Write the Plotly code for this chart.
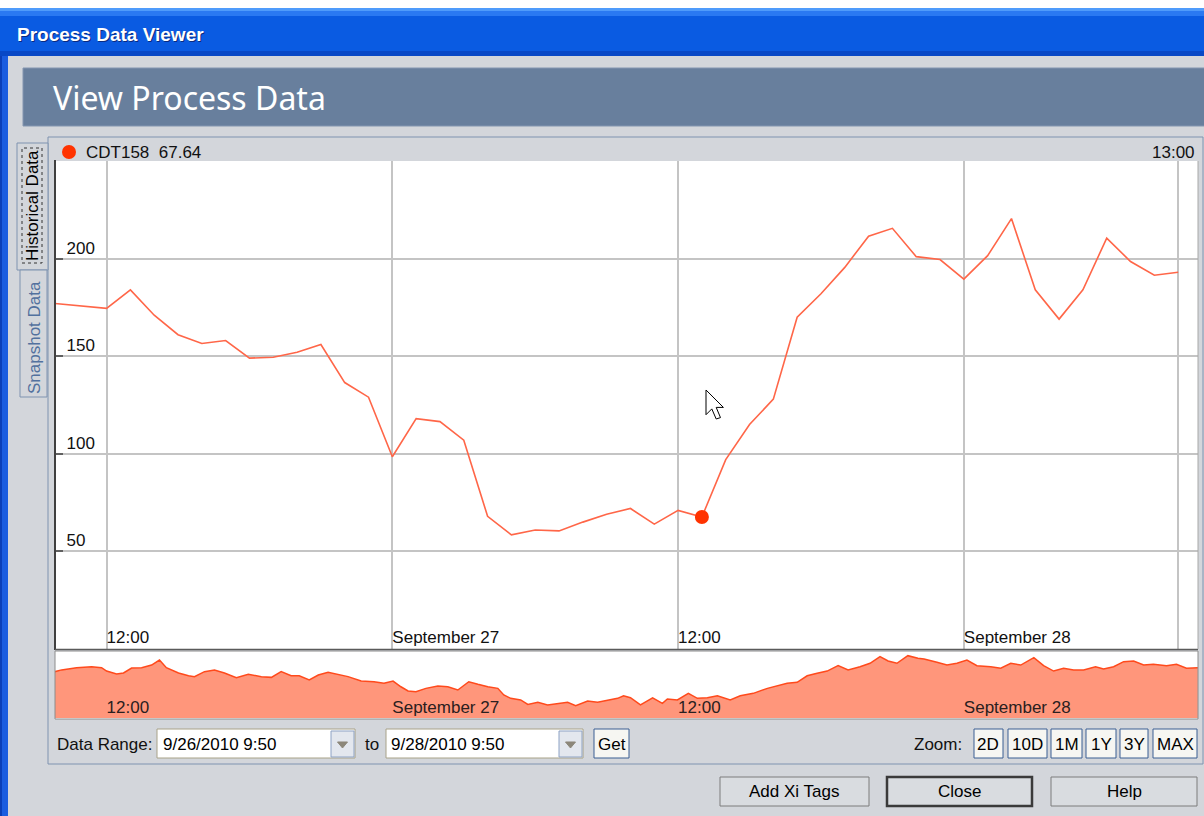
import plotly.graph_objects as go
import pandas as pd

# ---------------- data ----------------
tag_name = "CDT158"
cursor_value = 67.64
cursor_time = "2010-09-27 13:00"
cursor_time_label = "13:00"

range_start = "2010-09-26 09:50"
range_end = "2010-09-28 09:50"

main_first_time = "2010-09-26 09:50"
main_hourly_start = "2010-09-26 12:00"
main_values = [177, 174.5, 184, 171, 161, 156.5, 158, 149, 149.5, 152, 156, 136.5, 129, 98.5,
               118, 116.5, 107, 68, 58.5, 61, 60.5, 65, 69, 72, 64, 71,
               67.64, 97, 115, 128, 170, 182, 195.5, 211.5, 215.5, 201, 199.5, 189.5,
               201.5, 220.5, 184, 169, 184, 210.5, 198.5, 191.5, 193]

# overview (navigator) series: hours since 2010-09-26 00:00
overview_hours = [9.83, 10.11, 10.74, 11.37, 11.79, 12.00, 12.42, 12.71, 13.05, 13.47, 13.89, 14.22,
                  14.51, 15.02, 15.44, 15.69, 16.11, 16.53, 16.95, 17.45, 17.95, 18.50, 18.92, 19.33,
                  19.75, 20.09, 20.51, 20.89, 21.30, 21.77,
                  22.14, 22.69, 23.23, 23.65, 24.03, 24.36, 24.66, 24.99, 25.41, 25.91, 26.33, 26.75,
                  27.21, 27.59, 28.01, 28.43, 28.68, 28.97, 29.39, 29.69, 30.11, 30.52, 30.94, 31.36,
                  31.70, 32.20, 32.62, 33.04, 33.46, 33.71, 34.00,
                  34.42, 34.93, 35.34, 35.55, 35.97, 36.43, 36.81, 37.23, 37.65, 38.19, 38.61, 39.16,
                  39.75, 40.16, 40.58, 41.00, 41.42, 41.84, 42.26, 42.72, 43.14, 43.64, 44.06, 44.48,
                  44.82, 45.19, 45.65, 46.07,
                  46.33, 46.87, 47.29, 47.71, 48.13, 48.55, 49.13, 49.55, 49.97, 50.39, 50.94, 51.35,
                  51.77, 52.19, 52.61, 53.03, 53.53, 53.87, 54.29, 54.71, 55.13, 55.55, 55.96, 56.51,
                  56.93, 57.35, 57.83]
overview_values = [173, 179, 186.5, 190, 186.5, 175, 165, 168.5, 185.5, 186.5, 195.5, 212.5,
                   186.5, 168.5, 159, 156, 173, 178.5, 168.5, 152.5, 164, 156, 153.5, 173,
                   159, 159, 144.5, 161.5, 171, 164,
                   156, 141, 138.5, 133.5, 141, 121.5, 107, 104.5, 116, 124, 121.5, 110.5,
                   138.5, 130, 121.5, 116, 93.5, 82, 76.5, 61.5, 68.5, 59.5, 65, 68.5,
                   57, 73, 68.5, 76.5, 82, 91, 84,
                   59.5, 84, 65, 80, 76.5, 99, 82, 84, 91, 76.5, 91, 99,
                   116, 125, 133.5, 136.5, 159, 167.5, 175, 193.5, 178.5, 190, 201.5, 224,
                   209.5, 201.5, 227.5, 218.5,
                   216, 205, 195.5, 201.5, 212.5, 193.5, 190, 184.5, 201.5, 195.5, 220.5, 193.5,
                   175, 184.5, 178.5, 178.5, 190, 182, 190, 207, 209.5, 195.5, 198, 193.5,
                   198, 184.5, 186.5]

x_tickvals = ["2010-09-26 12:00", "2010-09-27 00:00", "2010-09-27 12:00", "2010-09-28 00:00", "2010-09-28 09:00"]
x_ticktext = ["12:00", "September 27", "12:00", "September 28", ""]
ov_tickvals = x_tickvals[:4]
ov_ticktext = x_ticktext[:4]
y_tickvals = [50, 100, 150, 200, 250]
y_ticktext = ["50", "100", "150", "200", ""]

zoom_buttons = ["2D", "10D", "1M", "1Y", "3Y", "MAX"]
date_from = "9/26/2010 9:50"
date_to = "9/28/2010 9:50"

# ---------------- build ----------------
main_times = [pd.Timestamp(main_first_time)] + list(pd.date_range(main_hourly_start, periods=len(main_values) - 1, freq="h"))
overview_times = pd.Timestamp("2010-09-26") + pd.to_timedelta(overview_hours, unit="h")

W, H = 1204, 816
FONT = "Liberation Sans, Arial, sans-serif"
BG = "#D3D6DB"


def X(px):
    return px / W


def Y(py):
    return 1 - py / H


shapes = []
annotations = []


def rect(x0, y0, x1, y1, fill=None, line=None, lw=1, dash=None, layer="below"):
    shapes.append(dict(type="rect", xref="paper", yref="paper",
                       x0=X(x0), x1=X(x1), y0=Y(y1), y1=Y(y0),
                       fillcolor=fill if fill else "rgba(0,0,0,0)",
                       line=dict(color=line if line else "rgba(0,0,0,0)", width=lw if line else 0, dash=dash),
                       layer=layer))


def hline(x0, x1, y, color, lw=1, layer="above"):
    shapes.append(dict(type="line", xref="paper", yref="paper", x0=X(x0), x1=X(x1), y0=Y(y), y1=Y(y),
                       line=dict(color=color, width=lw), layer=layer))


def vline(x, y0, y1, color, lw=1, layer="above"):
    shapes.append(dict(type="line", xref="paper", yref="paper", x0=X(x), x1=X(x), y0=Y(y0), y1=Y(y1),
                       line=dict(color=color, width=lw), layer=layer))


def poly(pts, fill, line, lw=1, layer="above"):
    d = "M " + " L ".join(f"{X(a):.5f},{Y(b):.5f}" for a, b in pts) + " Z"
    shapes.append(dict(type="path", xref="paper", yref="paper", path=d, fillcolor=fill,
                       line=dict(color=line, width=lw), layer=layer))


def text(x, y, s, size=17, color="#000000", xanchor="left", bold=False, family=FONT, angle=0):
    annotations.append(dict(xref="paper", yref="paper", x=X(x), y=Y(y), text=(f"<b>{s}</b>" if bold else s),
                            showarrow=False, xanchor=xanchor, yanchor="middle", textangle=angle,
                            font=dict(family=family, size=size, color=color)))


# window chrome
rect(0, 0, W, 8, fill="#FFFFFF")
rect(0, 8, W, 56, fill="#0A5BE2")
rect(0, 8, W, 11, fill="#4F9BFB")
rect(0, 11, W, 16, fill="#2A79F2")
rect(0, 51, W, 56, fill="#0848C6")
rect(0, 56, 8, H, fill="#1A5DE0")
rect(0, 56, 2, H, fill="#0A3FB8")

# banner
rect(23, 68, W + 2, 126, fill="#687F9D", line="#8396B0")

# panel + tabs
rect(48, 137, 1203, 764, line="#7F93B0")
rect(17, 143, 48, 270, fill=BG, line="#7F93B0")
rect(20, 270, 47, 397, fill=BG, line="#7F93B0")
rect(22, 148, 42, 263, line="#333333", dash="dot")

# plot backgrounds
rect(55, 161, 1198, 649, fill="#FFFFFF")
rect(55, 651, 1198, 719, fill="#FFFFFF")

# plot borders
vline(55, 160, 650, "#404040", 2)
hline(55, 1198, 649.5, "#5A5A5A", 1.5)
vline(1198, 161, 649, "#A8A8A8", 1)
rect(55, 651, 1198, 719, line="#8C8C8C", layer="above")

# header of chart: legend dot
shapes.append(dict(type="circle", xref="paper", yref="paper", x0=X(62), x1=X(76), y0=Y(159), y1=Y(145),
                   fillcolor="#FF3300", line=dict(width=0), layer="below"))

# data range controls
for (cx0, cx1) in [(157, 355), (386, 583)]:
    rect(cx0, 729, cx1, 758, fill="#FFFFFF", line="#A8A288")
    rect(cx1 - 24, 731, cx1 - 1, 757, fill="#E3E7EE", line="#8DA2C4")
    mx = cx1 - 12.5
    poly([(mx - 5, 742), (mx + 5, 742), (mx, 748)], "#8C877A", "#8C877A", 1, layer="below")

rect(594, 729, 629, 758, fill="#F6F6F2", line="#3B5E93")
zoom_pos = [(974, 1003), (1008, 1047), (1051, 1082), (1086, 1116), (1120, 1148), (1153, 1197)]
for (bx0, bx1) in zoom_pos:
    rect(bx0, 729, bx1, 758, fill="#F6F6F2", line="#3B5E93")

# bottom buttons
bottom_buttons = [("Add Xi Tags", 720, 869, "#7C7C7C", 1), ("Close", 887, 1032, "#3A3A3A", 2.5), ("Help", 1051, 1197, "#7C7C7C", 1)]
for (lbl, bx0, bx1, lc, lw) in bottom_buttons:
    rect(bx0, 777, bx1, 806, fill="#D9DCE0", line=lc, lw=lw)

# mouse cursor
tip = (706, 390)
arrow = [(0, 0), (0, 24.7), (5.8, 18.9), (10.2, 29), (14.5, 27.6), (10.2, 17.4), (17.4, 17.4)]
poly([(tip[0] + a, tip[1] + b) for a, b in arrow], "#FFFFFF", "#000000", 1)

# texts
text(16, 36, "Process Data Viewer", 19, "#0A2A80", bold=True)
text(15, 35, "Process Data Viewer", 19, "#FFFFFF", bold=True)
text(51, 97, "View Process Data", 32, "#FFFFFF", family="Noto Sans, Open Sans, sans-serif")
text(32, 206, "Historical Data", 17, "#000000", xanchor="center", angle=-90)
text(34, 338, "Snapshot Data", 17, "#52719E", xanchor="center", angle=-90)
text(84, 152, f"{tag_name}\u00a0 {cursor_value:.2f}", 17, "#111111")
text(1197, 152, cursor_time_label, 17, "#111111", xanchor="right")
text(55, 744, "Data Range:", 17, "#111111")
text(161, 744, date_from, 17, "#000000")
text(363, 744, "to", 17, "#111111")
text(389, 744, date_to, 17, "#000000")
text(611.5, 744, "Get", 17, "#000000", xanchor="center")
text(964, 744, "Zoom:", 17, "#111111", xanchor="right")
for lbl, (bx0, bx1) in zip(zoom_buttons, zoom_pos):
    text((bx0 + bx1) / 2, 744, lbl, 17, "#000000", xanchor="center")
for (lbl, bx0, bx1, lc, lw) in bottom_buttons:
    text((bx0 + bx1) / 2, 791, lbl, 17, "#000000", xanchor="center")

fig = go.Figure()

fig.add_trace(go.Scatter(x=main_times, y=main_values, mode="lines",
                         line=dict(color="#FF6648", width=1.6), xaxis="x", yaxis="y", hoverinfo="skip"))
fig.add_trace(go.Scatter(x=[cursor_time], y=[cursor_value], mode="markers",
                         marker=dict(color="#FF3300", size=14), xaxis="x", yaxis="y", hoverinfo="skip"))
fig.add_trace(go.Scatter(x=overview_times, y=overview_values, mode="lines", fill="tozeroy",
                         fillcolor="#FF967B", line=dict(color="#FF4A1C", width=1.5),
                         xaxis="x2", yaxis="y2", hoverinfo="skip"))

fig.update_layout(
    width=W, height=H, margin=dict(l=0, r=0, t=0, b=0),
    paper_bgcolor=BG, plot_bgcolor="rgba(0,0,0,0)",
    showlegend=False, hovermode=False,
    font=dict(family=FONT, size=17, color="#111111"),
    shapes=shapes, annotations=annotations,
    xaxis=dict(domain=[X(55), X(1198)], anchor="free", position=Y(652.5), type="date",
               range=[range_start, range_end],
               tickmode="array", tickvals=x_tickvals, ticktext=x_ticktext,
               showgrid=True, gridcolor="#C4C4C4", gridwidth=1.5, zeroline=False, showline=False,
               ticks="", ticklabelposition="inside right", tickfont=dict(size=17, color="#111111")),
    yaxis=dict(domain=[Y(649), Y(161)], anchor="x", range=[0, 250],
               tickmode="array", tickvals=y_tickvals, ticktext=y_ticktext,
               showgrid=True, gridcolor="#C4C4C4", gridwidth=1.5, zeroline=False, showline=False,
               ticks="inside", ticklen=8, tickcolor="#606060", tickwidth=1.5,
               ticklabelposition="inside", ticklabelshift=-11, ticklabelstandoff=4,
               tickfont=dict(size=17, color="#111111")),
    xaxis2=dict(domain=[X(55), X(1198)], anchor="free", position=Y(722), type="date",
                range=[range_start, range_end],
                tickmode="array", tickvals=ov_tickvals, ticktext=ov_ticktext,
                showgrid=False, zeroline=False, showline=False, ticks="",
                ticklabelposition="inside right", tickfont=dict(size=17, color="#2A2020")),
    yaxis2=dict(domain=[Y(718), Y(652)], anchor="x2", range=[15, 240],
                showgrid=False, zeroline=False, showticklabels=False, ticks=""),
)

fig.write_html("out.html", config={"displayModeBar": False},
               post_script="document.body.style.margin='0';document.body.style.padding='0';document.body.style.overflow='hidden';")
